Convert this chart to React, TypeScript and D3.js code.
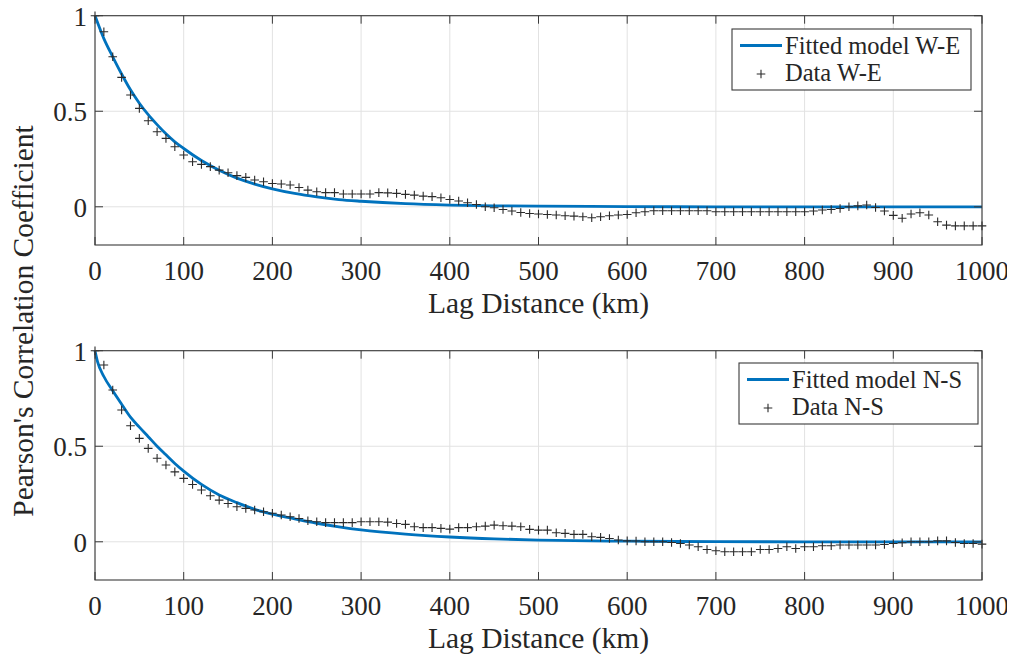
import React from "react";
import * as d3 from "d3";

// ---------- data ----------
const lags: number[] = d3.range(0, 1001, 10);

const dataWE: number[] = [
  1.0, 0.916, 0.785, 0.677, 0.585, 0.515, 0.45, 0.393, 0.358, 0.314,
  0.271, 0.236, 0.222, 0.21, 0.192, 0.178, 0.163, 0.154, 0.14, 0.131,
  0.122, 0.119, 0.114, 0.101, 0.087, 0.079, 0.074, 0.074, 0.067, 0.067,
  0.067, 0.067, 0.074, 0.073, 0.07, 0.065, 0.061, 0.056, 0.053, 0.047,
  0.038, 0.03, 0.021, 0.012, 0.0, -0.005, -0.014, -0.022, -0.03, -0.035,
  -0.038, -0.04, -0.043, -0.047, -0.049, -0.052, -0.057, -0.052, -0.047, -0.043,
  -0.04, -0.031, -0.026, -0.021, -0.021, -0.021, -0.021, -0.021, -0.021, -0.021,
  -0.026, -0.026, -0.026, -0.026, -0.026, -0.026, -0.026, -0.026, -0.026, -0.026,
  -0.026, -0.022, -0.017, -0.014, -0.009, 0.0, 0.005, 0.009, -0.004, -0.022,
  -0.045, -0.06, -0.038, -0.031, -0.043, -0.078, -0.096, -0.1, -0.1, -0.1,
  -0.1,
];

const dataNS: number[] = [
  1.0, 0.925, 0.794, 0.69, 0.607, 0.541, 0.489, 0.437, 0.402, 0.366,
  0.332, 0.3, 0.271, 0.241, 0.218, 0.2, 0.183, 0.175, 0.166, 0.157,
  0.149, 0.14, 0.131, 0.122, 0.11, 0.105, 0.1, 0.1, 0.1, 0.1,
  0.105, 0.105, 0.105, 0.103, 0.096, 0.091, 0.079, 0.074, 0.074, 0.07,
  0.066, 0.074, 0.074, 0.079, 0.082, 0.087, 0.084, 0.082, 0.079, 0.065,
  0.061, 0.061, 0.047, 0.044, 0.039, 0.039, 0.026, 0.023, 0.017, 0.009,
  0.005, 0.004, 0.0, 0.0, 0.0, -0.004, -0.009, -0.017, -0.026, -0.04,
  -0.047, -0.052, -0.052, -0.052, -0.052, -0.04, -0.04, -0.035, -0.026, -0.035,
  -0.026, -0.026, -0.021, -0.021, -0.017, -0.017, -0.017, -0.017, -0.017, -0.014,
  -0.009, -0.005, 0.0, 0.0, 0.0, 0.005, 0.005, -0.004, -0.009, -0.009,
  -0.012,
];

const modelWELag: number[] = [0, 10, 20, 30, 40, 50, 60, 70, 80, 90, 100, 120, 140, 160, 180, 200, 225, 250, 275, 300, 350, 400, 450, 500, 600, 700, 800, 1000];
const modelWEVal: number[] = [1, 0.88, 0.785, 0.695, 0.612, 0.542, 0.482, 0.43, 0.382, 0.34, 0.305, 0.242, 0.191, 0.15, 0.119, 0.094, 0.07, 0.052, 0.038, 0.029, 0.016, 0.009, 0.005, 0.003, 0.001, 0, 0, 0];

const modelNSLag: number[] = [0, 3, 10, 20, 30, 40, 50, 60, 70, 80, 90, 100, 120, 140, 160, 180, 200, 225, 250, 275, 300, 350, 400, 450, 500, 600, 700, 800, 1000];
const modelNSVal: number[] = [1, 0.94, 0.865, 0.79, 0.72, 0.652, 0.6, 0.55, 0.5, 0.455, 0.41, 0.37, 0.3, 0.245, 0.205, 0.17, 0.145, 0.12, 0.097, 0.078, 0.062, 0.04, 0.025, 0.015, 0.009, 0.003, 0.001, 0, 0];

const xTicks: number[] = [0, 100, 200, 300, 400, 500, 600, 700, 800, 900, 1000];
const yTicks: number[] = [0, 0.5, 1];
const yTickLabels: string[] = ["0", "0.5", "1"];

const xLabel = "Lag Distance (km)";
const yLabel = "Pearson's Correlation Coefficient";

// ---------- layout ----------
const W = 1015;
const H = 654;
const OFF = 8; // body margin
const LEFT = 95;
const RIGHT = 982;
const FONT = "Liberation Serif";
const TEXT = "#262626";
const BLUE = "#0072BD";

interface PanelSpec {
  top: number;
  bottom: number;
  data: number[];
  mLag: number[];
  mVal: number[];
  legendModel: string;
  legendData: string;
  box: { x: number; y: number; w: number; h: number };
}

const panels: PanelSpec[] = [
  {
    top: 15.7,
    bottom: 245,
    data: dataWE,
    mLag: modelWELag,
    mVal: modelWEVal,
    legendModel: "Fitted model W-E",
    legendData: "Data W-E",
    box: { x: 732, y: 29, w: 239, h: 61 },
  },
  {
    top: 350.7,
    bottom: 580,
    data: dataNS,
    mLag: modelNSLag,
    mVal: modelNSVal,
    legendModel: "Fitted model N-S",
    legendData: "Data N-S",
    box: { x: 739, y: 363, w: 239, h: 61 },
  },
];

function Panel({ p }: { p: PanelSpec }) {
  const x = d3.scaleLinear().domain([0, 1000]).range([LEFT, RIGHT]);
  const y = d3.scaleLinear().domain([-0.2, 1]).range([p.bottom, p.top]);
  const line = d3
    .line<number>()
    .x((_, i) => x(p.mLag[i]))
    .y((d) => y(d))
    .curve(d3.curveMonotoneX);
  const tl = 8;
  const ms = 4.3;
  const plus = `M${-ms},0H${ms}M0,${-ms}V${ms}`;
  return (
    <g>
      {xTicks.map((t) => (
        <line key={"gx" + t} x1={x(t)} x2={x(t)} y1={p.top} y2={p.bottom} stroke="#e2e2e2" strokeWidth={1} />
      ))}
      {yTicks.map((t) => (
        <line key={"gy" + t} x1={LEFT} x2={RIGHT} y1={y(t)} y2={y(t)} stroke="#e2e2e2" strokeWidth={1} />
      ))}
      <path d={line(p.mVal) || ""} fill="none" stroke={BLUE} strokeWidth={2.8} />
      {p.data.map((v, i) => (
        <path key={"d" + i} d={plus} transform={`translate(${x(lags[i])},${y(v)})`} stroke="#2a2a2a" strokeWidth={1.1} fill="none" />
      ))}
      <rect x={LEFT} y={p.top} width={RIGHT - LEFT} height={p.bottom - p.top} fill="none" stroke="#3a3a3a" strokeWidth={1.1} />
      {xTicks.map((t) => (
        <g key={"tx" + t}>
          <line x1={x(t)} x2={x(t)} y1={p.bottom} y2={p.bottom - tl} stroke="#3a3a3a" />
          <line x1={x(t)} x2={x(t)} y1={p.top} y2={p.top + tl} stroke="#3a3a3a" />
          <text x={x(t)} y={p.bottom + 35} textAnchor="middle" fontSize={27} fontFamily={FONT} fill={TEXT}>
            {String(t)}
          </text>
        </g>
      ))}
      {yTicks.map((t, i) => (
        <g key={"ty" + t}>
          <line x1={LEFT} x2={LEFT + tl} y1={y(t)} y2={y(t)} stroke="#3a3a3a" />
          <line x1={RIGHT} x2={RIGHT - tl} y1={y(t)} y2={y(t)} stroke="#3a3a3a" />
          <text x={87} y={y(t) + 10} textAnchor="end" fontSize={27} fontFamily={FONT} fill={TEXT}>
            {yTickLabels[i]}
          </text>
        </g>
      ))}
      <text x={(LEFT + RIGHT) / 2} y={p.bottom + 68} textAnchor="middle" fontSize={29.5} fontFamily={FONT} fill={TEXT}>
        {xLabel}
      </text>
      <rect x={p.box.x} y={p.box.y} width={p.box.w} height={p.box.h} fill="#fff" stroke="#3a3a3a" strokeWidth={1.1} />
      <line x1={p.box.x + 8} x2={p.box.x + 50} y1={p.box.y + 16.5} y2={p.box.y + 16.5} stroke={BLUE} strokeWidth={2.8} />
      <text x={p.box.x + 53} y={p.box.y + 24.5} fontSize={24.5} fontFamily={FONT} fill={TEXT}>
        {p.legendModel}
      </text>
      <path d={plus} transform={`translate(${p.box.x + 29},${p.box.y + 45})`} stroke="#2a2a2a" strokeWidth={1.1} fill="none" />
      <text x={p.box.x + 53} y={p.box.y + 52} fontSize={24.5} fontFamily={FONT} fill={TEXT}>
        {p.legendData}
      </text>
    </g>
  );
}

export default function App() {
  return (
    <svg width={W - OFF} height={H - OFF} overflow="visible">
      <g transform={`translate(${-OFF},${-OFF})`}>
        {panels.map((p, i) => (
          <Panel key={i} p={p} />
        ))}
        <text transform={`translate(33,321) rotate(-90)`} textAnchor="middle" fontSize={29.5} fontFamily={FONT} fill={TEXT}>
          {yLabel}
        </text>
      </g>
    </svg>
  );
}
